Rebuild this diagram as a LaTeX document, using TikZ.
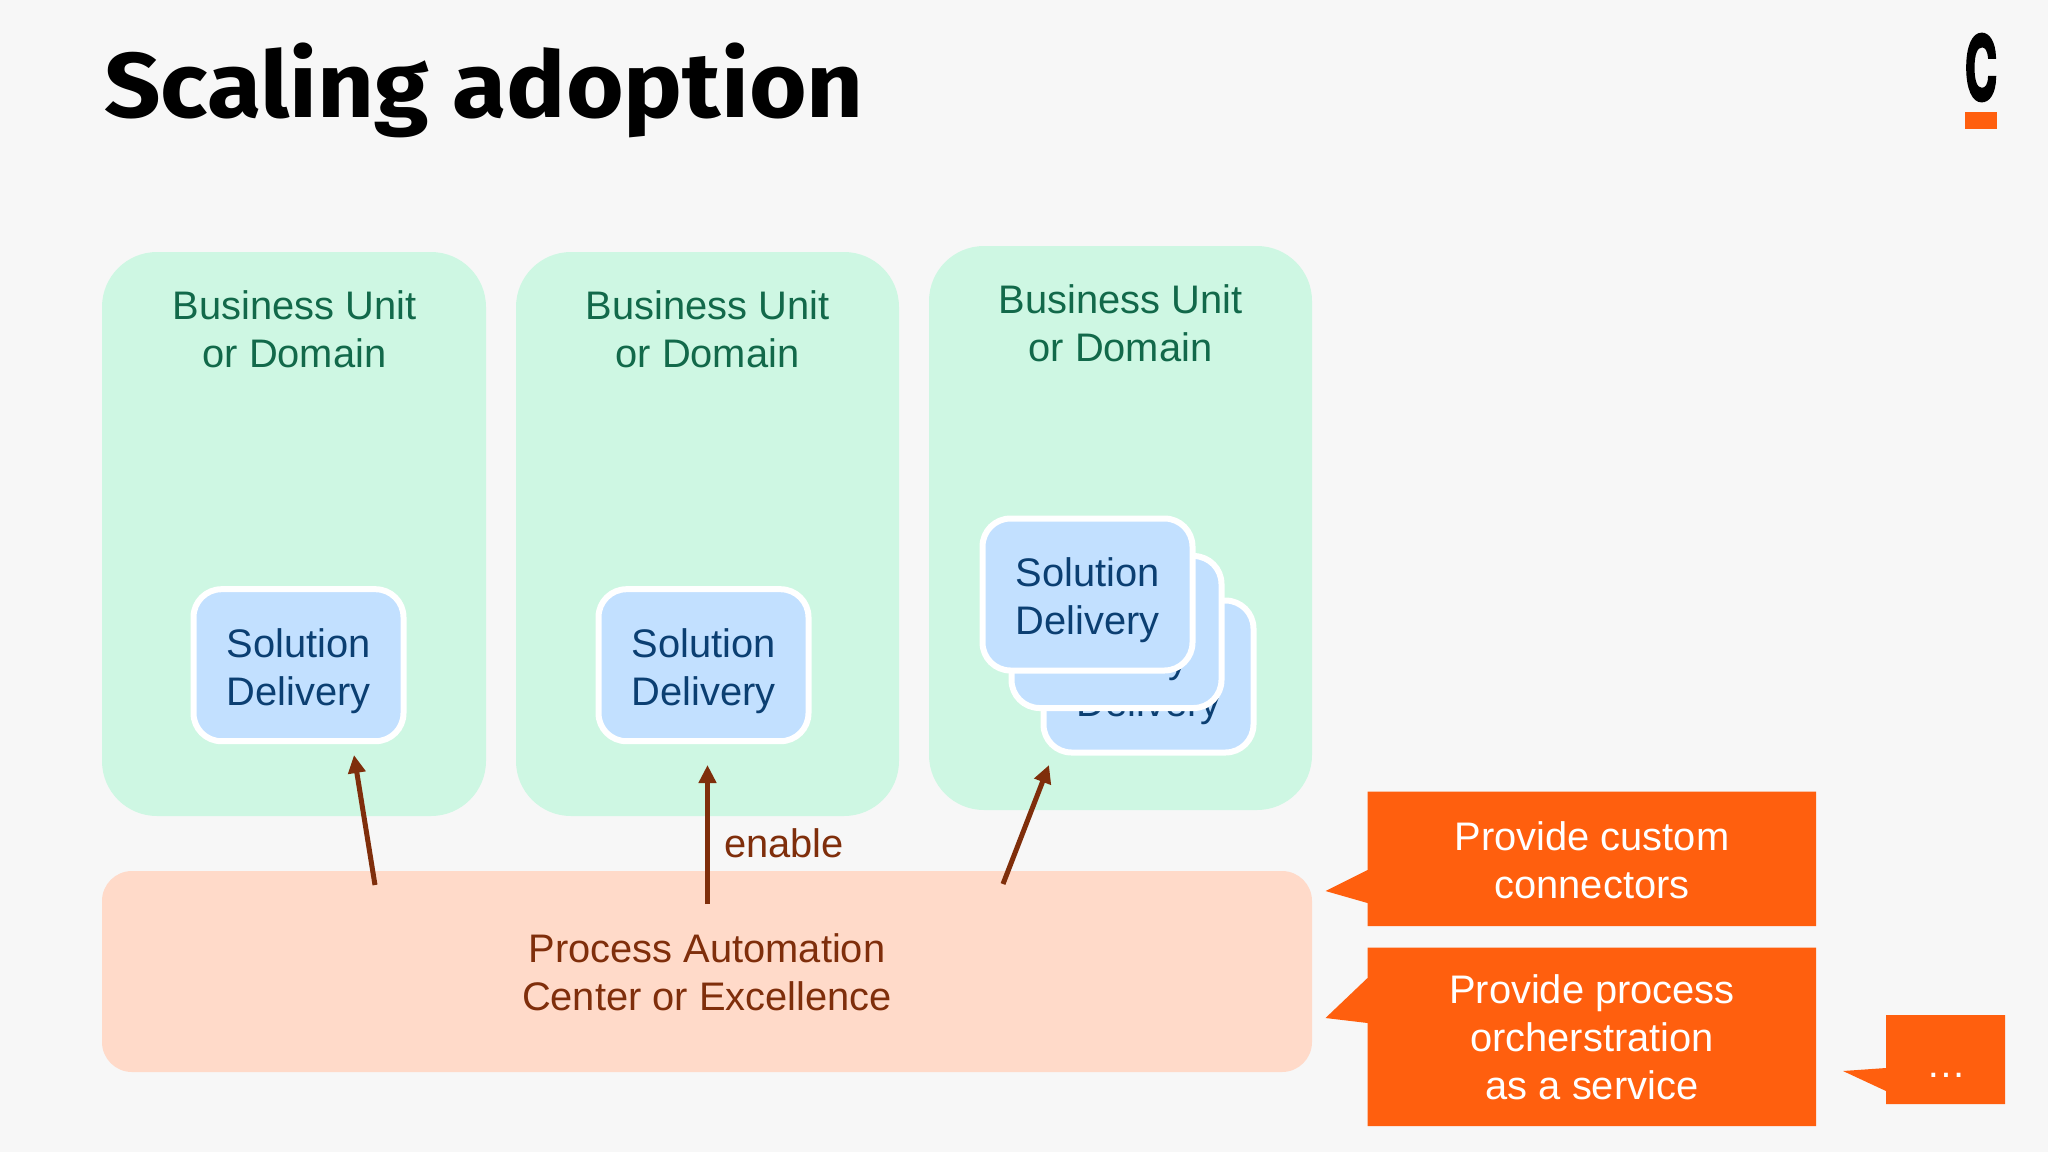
\documentclass[tikz,border=0pt]{standalone}
\usepackage{graphicx}
\usepackage{fontspec}
\setmainfont{Liberation Sans}
\newfontfamily\titlefont[BoldFont=*]{Fira Sans Bold}
\newfontfamily\logofont[FakeBold=4]{TeX Gyre Heros Bold}
\usetikzlibrary{arrows.meta}
\definecolor{bgc}{HTML}{F7F7F7}
\definecolor{unitfill}{HTML}{CEF7E3}
\definecolor{unittext}{HTML}{12694A}
\definecolor{solfill}{HTML}{C2E0FF}
\definecolor{soltext}{HTML}{0B3F72}
\definecolor{coefill}{HTML}{FFDAC9}
\definecolor{coetext}{HTML}{7F2E0B}
\definecolor{accent}{HTML}{FF5F0E}
\newcommand{\soltxt}{\rule{0pt}{41pt}Solution\\Delivery}
\tikzset{
  lab/.style={font=\fontsize{39.85}{48}\selectfont,align=center,inner sep=0pt},
  unitbox/.style={fill=unitfill,rounded corners=55},
  solbox/.style={fill=solfill,draw=white,line width=6,rounded corners=28,minimum width=210,minimum height=152,inner sep=0pt,font=\fontsize{39.85}{48}\selectfont,align=center,text=soltext},
  coebox/.style={fill=coefill,rounded corners=30},
  callout/.style={fill=accent},
  enablearrow/.style={draw=coetext,line width=5,-{Triangle[length=18,width=17]}}
}
\begin{document}
\begin{tikzpicture}[x=1pt,y=-1pt]
\fill[bgc] (0,0) rectangle (2048,1152);
\useasboundingbox (0,0) rectangle (2048,1152);
% title
\node[anchor=base west,inner sep=0pt,text=black,font=\fontsize{92}{100}\titlefont\bfseries] (title) at (104,117) {\scalebox{1.075}[1]{Scaling adoption}};
% logo
\node[inner sep=0pt,text=black,font=\fontsize{88}{100}\logofont,anchor=center] (logo) at (1981,67.5) {\scalebox{.5}[1]{C}};
\fill[accent] (1965,112) rectangle (1997,129);
% business units
\fill[unitbox] (102,252) rectangle (486,816);
\fill[unitbox] (516,252) rectangle (899,816);
\fill[unitbox] (929,246) rectangle (1312,810);
\node[lab,text=unittext] (u1) at (294.5,329) {Business Unit\\or Domain};
\node[lab,text=unittext] (u2) at (707.5,329) {Business Unit\\or Domain};
\node[lab,text=unittext] (u3) at (1120.5,323.5) {Business Unit\\or Domain};
% solution delivery
\node[solbox] (s1) at (298.5,665.2) {\soltxt};
\node[solbox] (s2) at (703.5,665.2) {\soltxt};
\node[solbox] (s5) at (1148.5,676.5) {\soltxt};
\node[solbox] (s4) at (1116.5,632) {\soltxt};
\node[solbox] (s3) at (1087.5,594.5) {\soltxt};
% centre of excellence
\fill[coebox] (102,871) rectangle (1312,1072);
\node[lab,text=coetext] (coe) at (707,972.5) {Process Automation\\Center or Excellence};
% arrows
\coordinate (a1s) at (375,885); \coordinate (a1e) at (354,755);
\coordinate (a2s) at (707.5,904); \coordinate (a2e) at (707.5,765);
\coordinate (a3s) at (1003,884); \coordinate (a3e) at (1049,765);
\draw[enablearrow] (a1s) -- (a1e);
\draw[enablearrow] (a2s) -- (a2e);
\draw[enablearrow] (a3s) -- (a3e);
\node[lab,text=coetext,anchor=base west] (en) at (724,857.5) {enable};
% callouts
\fill[callout] (1367.5,791.5) -- (1816,791.5) -- (1816,926) -- (1367.5,926) -- (1367.5,903) -- (1325.5,891) -- (1367.5,870) -- cycle;
\fill[callout] (1367.5,947.5) -- (1816,947.5) -- (1816,1126) -- (1367.5,1126) -- (1367.5,1023) -- (1325.5,1018) -- (1367.5,978) -- cycle;
\fill[callout] (1886,1015) -- (2005,1015) -- (2005,1104) -- (1886,1104) -- (1886,1091) -- (1843,1071) -- (1886,1068) -- cycle;
\node[lab,text=white] (c1) at (1592,860) {Provide custom\\connectors};
\node[lab,text=white] (c2) at (1592,1037.5) {Provide process\\orcherstration\\as a service};
\node[lab,text=white,anchor=base] (c3) at (1946,1077) {\ldots};
\end{tikzpicture}
\end{document}
